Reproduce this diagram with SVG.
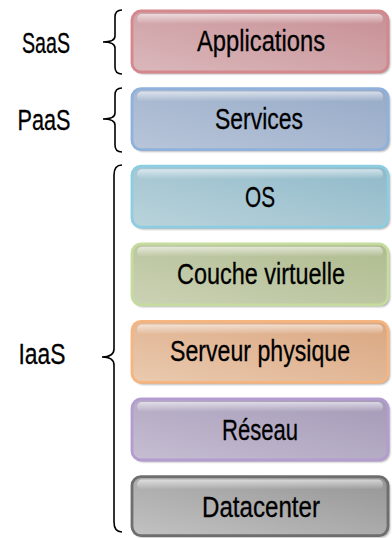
<svg xmlns="http://www.w3.org/2000/svg" width="392" height="538" viewBox="0 0 392 538">
  <defs>
    <linearGradient id="gApp" x1="0" y1="1" x2="1" y2="0">
      <stop offset="0" stop-color="#dab8bb"/><stop offset="1" stop-color="#c78f95"/>
    </linearGradient>
    <linearGradient id="gSrv" x1="0" y1="1" x2="1" y2="0">
      <stop offset="0" stop-color="#b8c5d9"/><stop offset="1" stop-color="#96aac7"/>
    </linearGradient>
    <linearGradient id="gOS" x1="0" y1="1" x2="1" y2="0">
      <stop offset="0" stop-color="#bad3db"/><stop offset="1" stop-color="#8fb9c9"/>
    </linearGradient>
    <linearGradient id="gVir" x1="0" y1="1" x2="1" y2="0">
      <stop offset="0" stop-color="#cbd2b5"/><stop offset="1" stop-color="#aebb8e"/>
    </linearGradient>
    <linearGradient id="gPhy" x1="0" y1="1" x2="1" y2="0">
      <stop offset="0" stop-color="#eacaaf"/><stop offset="1" stop-color="#daa680"/>
    </linearGradient>
    <linearGradient id="gNet" x1="0" y1="1" x2="1" y2="0">
      <stop offset="0" stop-color="#c6bed2"/><stop offset="1" stop-color="#a499b7"/>
    </linearGradient>
    <linearGradient id="gDc" x1="0" y1="1" x2="1" y2="0">
      <stop offset="0" stop-color="#c2c2c2"/><stop offset="1" stop-color="#959595"/>
    </linearGradient>
    <linearGradient id="gloss" x1="0" y1="0" x2="0" y2="1">
      <stop offset="0" stop-color="#ffffff" stop-opacity="0.6"/>
      <stop offset="1" stop-color="#ffffff" stop-opacity="0"/>
    </linearGradient>
    <filter id="soft" x="-5%" y="-10%" width="115%" height="130%">
      <feGaussianBlur stdDeviation="1"/>
    </filter>
  </defs>
  <style>
    .shadow { fill: #000000; opacity: 0.35; filter: url(#soft); }
    .box { stroke-width: 2.8; }
    .gloss { fill: url(#gloss); }
    .lbl { font-family: "Liberation Sans", Arial, sans-serif; font-size: 30px; fill: #000000; stroke: #000000; stroke-width: 0.3; text-anchor: middle; }
    .brace { fill: none; stroke: #000000; stroke-width: 1.6; }
  </style>

  <!-- layer boxes -->
  <g id="applications">
    <rect class="shadow" x="134" y="13" width="256" height="61" rx="9"/>
    <rect class="box" x="132" y="11" width="256" height="61" rx="9" fill="url(#gApp)" stroke="#d4878d"/>
    <rect class="gloss" x="137" y="14" width="246" height="10" rx="5"/>
    <text class="lbl" x="261" y="50.5" textLength="128" lengthAdjust="spacingAndGlyphs">Applications</text>
  </g>
  <g id="services">
    <rect class="shadow" x="134" y="90.6" width="256" height="61" rx="9"/>
    <rect class="box" x="132" y="88.6" width="256" height="61" rx="9" fill="url(#gSrv)" stroke="#8fb1dc"/>
    <rect class="gloss" x="137" y="91.6" width="246" height="10" rx="5"/>
    <text class="lbl" x="259" y="128.5" textLength="88" lengthAdjust="spacingAndGlyphs">Services</text>
  </g>
  <g id="os">
    <rect class="shadow" x="134" y="168.2" width="256" height="61" rx="9"/>
    <rect class="box" x="132" y="166.2" width="256" height="61" rx="9" fill="url(#gOS)" stroke="#8ccde2"/>
    <rect class="gloss" x="137" y="169.2" width="246" height="10" rx="5"/>
    <text class="lbl" x="260" y="206.5" textLength="30" lengthAdjust="spacingAndGlyphs">OS</text>
  </g>
  <g id="couche-virtuelle">
    <rect class="shadow" x="134" y="245.8" width="256" height="61" rx="9"/>
    <rect class="box" x="132" y="243.8" width="256" height="61" rx="9" fill="url(#gVir)" stroke="#c5dc9e"/>
    <rect class="gloss" x="137" y="246.8" width="246" height="10" rx="5"/>
    <text class="lbl" x="261" y="283.5" textLength="168" lengthAdjust="spacingAndGlyphs">Couche virtuelle</text>
  </g>
  <g id="serveur-physique">
    <rect class="shadow" x="134" y="323.4" width="256" height="61" rx="9"/>
    <rect class="box" x="132" y="321.4" width="256" height="61" rx="9" fill="url(#gPhy)" stroke="#f6b47f"/>
    <rect class="gloss" x="137" y="324.4" width="246" height="10" rx="5"/>
    <text class="lbl" x="260" y="361" font-size="28" textLength="180" lengthAdjust="spacingAndGlyphs">Serveur physique</text>
  </g>
  <g id="reseau">
    <rect class="shadow" x="134" y="401" width="256" height="61" rx="9"/>
    <rect class="box" x="132" y="399" width="256" height="61" rx="9" fill="url(#gNet)" stroke="#b39ccf"/>
    <rect class="gloss" x="137" y="402" width="246" height="10" rx="5"/>
    <text class="lbl" x="260" y="439.5" textLength="76" lengthAdjust="spacingAndGlyphs">Réseau</text>
  </g>
  <g id="datacenter">
    <rect class="shadow" x="134" y="478.6" width="256" height="59" rx="9"/>
    <rect class="box" x="132" y="476.6" width="256" height="59" rx="9" fill="url(#gDc)" stroke="#6e6e6e"/>
    <rect class="gloss" x="137" y="479.6" width="246" height="10" rx="5"/>
    <text class="lbl" x="261" y="516.5" textLength="118" lengthAdjust="spacingAndGlyphs">Datacenter</text>
  </g>

  <!-- service model labels -->
  <g id="saas">
    <text class="lbl" x="46" y="52.5" textLength="48" lengthAdjust="spacingAndGlyphs">SaaS</text>
  </g>
  <g id="paas">
    <text class="lbl" x="44" y="129.5" textLength="53" lengthAdjust="spacingAndGlyphs">PaaS</text>
  </g>
  <g id="iaas">
    <text class="lbl" x="42" y="363.5" textLength="47" lengthAdjust="spacingAndGlyphs">IaaS</text>
  </g>

  <!-- braces grouping the layers -->
  <g id="connectors">
    <path class="brace" d="M122,10 Q115,10 115,17 L115,36 Q115,42 103,42 Q115,42 115,48 L115,67 Q115,74 122,74"/>
    <path class="brace" d="M122,88 Q115,88 115,95 L115,113 Q115,119 103,119 Q115,119 115,125 L115,145 Q115,152 122,152"/>
    <path class="brace" d="M122,165 Q114,165 114,175 L114,349 Q114,357 102,357 Q114,357 114,365 L114,522 Q114,532 122,532"/>
  </g>
</svg>
